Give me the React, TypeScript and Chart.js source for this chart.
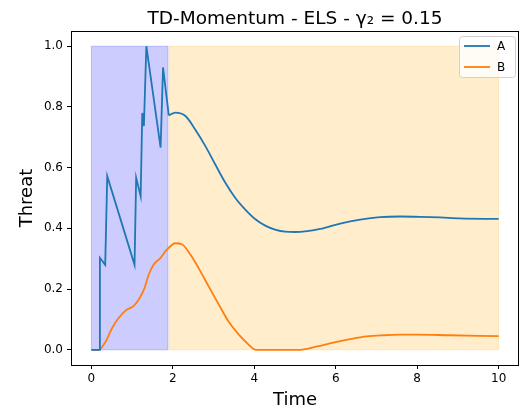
import React, { useEffect, useRef } from "react";
import { Chart, registerables } from "chart.js";

Chart.register(...registerables);

const chartTitle = "TD-Momentum - ELS - γ₂ = 0.15";
const xLabel = "Time";
const yLabel = "Threat";
const seriesNames = ["A", "B"];
const seriesColors = ["#1f77b4", "#ff7f0e"];

// A: jagged early phase
const aTimesEarly = [0, 0.19, 0.21, 0.34, 0.39, 1.06, 1.1, 1.21, 1.25, 1.29, 1.35, 1.7, 1.76, 1.9];
const aValuesEarly = [0, 0, 0.303, 0.28, 0.572, 0.28, 0.567, 0.506, 0.78, 0.737, 1.0, 0.666, 0.93, 0.772];
// A: smooth late phase
const aTimesLate = [1.9, 2.06, 2.31, 2.55, 2.8, 3.04, 3.29, 3.53, 3.78, 4.02, 4.27, 4.51, 4.76, 5.0, 5.3, 5.62, 6.11, 6.6, 7.09, 7.58, 8.07, 8.56, 9.05, 10];
const aValuesLate = [0.772, 0.781, 0.77, 0.726, 0.671, 0.611, 0.55, 0.501, 0.462, 0.431, 0.409, 0.396, 0.389, 0.388, 0.391, 0.398, 0.416, 0.429, 0.437, 0.439, 0.438, 0.436, 0.433, 0.431];
// B
const bTimes = [0, 0.18, 0.35, 0.51, 0.67, 0.84, 1.04, 1.16, 1.29, 1.41, 1.53, 1.7, 1.82, 1.94, 2.06, 2.23, 2.43, 2.63, 2.88, 3.13, 3.37, 3.62, 3.86, 3.98, 4.06, 5.13, 5.54, 5.94, 6.35, 6.76, 7.17, 7.58, 7.99, 8.8, 10];
const bValues = [0, 0, 0.027, 0.072, 0.105, 0.129, 0.145, 0.165, 0.198, 0.248, 0.281, 0.303, 0.325, 0.341, 0.351, 0.347, 0.314, 0.27, 0.209, 0.149, 0.093, 0.05, 0.017, 0.003, 0, 0, 0.011, 0.024, 0.035, 0.044, 0.048, 0.05, 0.05, 0.048, 0.045];

const xTicks = [0, 2, 4, 6, 8, 10];
const yTicks = [0, 0.2, 0.4, 0.6, 0.8, 1.0];

// shaded phases: [start, end]
const phaseSpans = [
  [0, 1.88],
  [1.91, 10],
];
const phaseSpanLow = 0;
const phaseSpanHigh = 1;
const phaseColors = ["rgba(0,0,255,0.2)", "rgba(255,165,0,0.2)"];

const FONT = "'DejaVu Sans', sans-serif";

const toPts = (xs: number[], ys: number[]) => xs.map((x, i) => ({ x, y: ys[i] }));

export default function App() {
  const ref = useRef<HTMLCanvasElement | null>(null);

  useEffect(() => {
    if (!ref.current) return;

    const decorPlugin = {
      id: "decor",
      beforeDatasetsDraw(chart: any) {
        const { ctx, scales } = chart;
        const xs = scales.x;
        const ys = scales.y;
        ctx.save();
        phaseSpans.forEach((s, i) => {
          const x0 = xs.getPixelForValue(s[0]);
          const x1 = xs.getPixelForValue(s[1]);
          const y0 = ys.getPixelForValue(phaseSpanHigh);
          const y1 = ys.getPixelForValue(phaseSpanLow);
          ctx.fillStyle = phaseColors[i];
          ctx.fillRect(x0, y0, x1 - x0, y1 - y0);
          ctx.strokeStyle = phaseColors[i];
          ctx.lineWidth = 1;
          ctx.strokeRect(x0, y0, x1 - x0, y1 - y0);
        });
        ctx.restore();
      },
      afterDraw(chart: any) {
        const { ctx, chartArea } = chart;
        const { left, right, top, bottom } = chartArea;
        ctx.save();
        // frame
        ctx.strokeStyle = "#000";
        ctx.lineWidth = 1;
        ctx.strokeRect(left + 0.5, top + 0.5, right - left - 1, bottom - top);
        // title
        ctx.fillStyle = "#000";
        ctx.font = `18.5px ${FONT}`;
        ctx.textAlign = "center";
        ctx.textBaseline = "alphabetic";
        ctx.fillText(chartTitle, (left + right) / 2, 24);
        // x label
        ctx.font = `18px ${FONT}`;
        ctx.fillText(xLabel, (left + right) / 2, 405);
        // y label
        ctx.save();
        ctx.translate(32, (top + bottom) / 2);
        ctx.rotate(-Math.PI / 2);
        ctx.fillText(yLabel, 0, 0);
        ctx.restore();
        // legend
        const bx = 459, by = 36, bw = 56, bh = 41;
        ctx.fillStyle = "rgba(255,255,255,0.8)";
        ctx.strokeStyle = "#d0d0d0";
        ctx.lineWidth = 1;
        ctx.beginPath();
        (ctx as any).roundRect(bx + 0.5, by + 0.5, bw, bh, 3);
        ctx.fill();
        ctx.stroke();
        ctx.font = `12px ${FONT}`;
        ctx.textAlign = "left";
        ctx.textBaseline = "middle";
        seriesNames.forEach((name, i) => {
          const yy = by + 10 + i * 21;
          ctx.strokeStyle = seriesColors[i];
          ctx.lineWidth = 1.8;
          ctx.beginPath();
          ctx.moveTo(bx + 5, yy);
          ctx.lineTo(bx + 31, yy);
          ctx.stroke();
          ctx.fillStyle = "#000";
          ctx.fillText(name, bx + 38, yy + 1);
        });
        ctx.restore();
      },
    };

    const chart = new Chart(ref.current, {
      type: "line",
      data: {
        datasets: [
          {
            label: seriesNames[0],
            data: toPts(aTimesEarly, aValuesEarly),
            borderColor: seriesColors[0],
            borderWidth: 1.8,
            pointRadius: 0,
            tension: 0,
            fill: false,
          },
          {
            label: seriesNames[0],
            data: toPts(aTimesLate, aValuesLate),
            borderColor: seriesColors[0],
            borderWidth: 1.8,
            pointRadius: 0,
            cubicInterpolationMode: "monotone",
            fill: false,
          },
          {
            label: seriesNames[1],
            data: toPts(bTimes, bValues),
            borderColor: seriesColors[1],
            borderWidth: 1.8,
            pointRadius: 0,
            cubicInterpolationMode: "monotone",
            fill: false,
          },
        ],
      },
      options: {
        animation: false,
        responsive: false,
        maintainAspectRatio: false,
        layout: { padding: { top: 31, right: 0, left: 0, bottom: 0 } },
        plugins: {
          legend: { display: false },
          title: { display: false },
          tooltip: { enabled: false },
        },
        scales: {
          x: {
            type: "linear",
            min: -0.5,
            max: 10.5,
            afterBuildTicks: (s: any) => {
              s.ticks = xTicks.map((v) => ({ value: v }));
            },
            afterFit: (s: any) => {
              s.height = 47;
            },
            grid: { drawOnChartArea: false, drawTicks: true, tickLength: 4, tickColor: "#000", lineWidth: 1 },
            border: { display: false },
            ticks: {
              color: "#000",
              font: { family: FONT, size: 12 },
              padding: 3,
              maxRotation: 0,
              callback: (v: any) => String(v),
            },
          },
          y: {
            type: "linear",
            min: -0.05,
            max: 1.05,
            afterBuildTicks: (s: any) => {
              s.ticks = yTicks.map((v) => ({ value: v }));
            },
            afterFit: (s: any) => {
              s.width = 71;
            },
            grid: { drawOnChartArea: false, drawTicks: true, tickLength: 4, tickColor: "#000", lineWidth: 1 },
            border: { display: false },
            ticks: {
              color: "#000",
              font: { family: FONT, size: 12 },
              padding: 4,
              callback: (v: any) => Number(v).toFixed(1),
            },
          },
        },
      },
      plugins: [decorPlugin],
    });

    return () => chart.destroy();
  }, []);

  return (
    <div style={{ position: "fixed", left: 0, top: 0, width: 519, height: 412, background: "#fff" }}>
      <canvas ref={ref} width={519} height={412} style={{ display: "block", width: 519, height: 412 }} />
    </div>
  );
}
